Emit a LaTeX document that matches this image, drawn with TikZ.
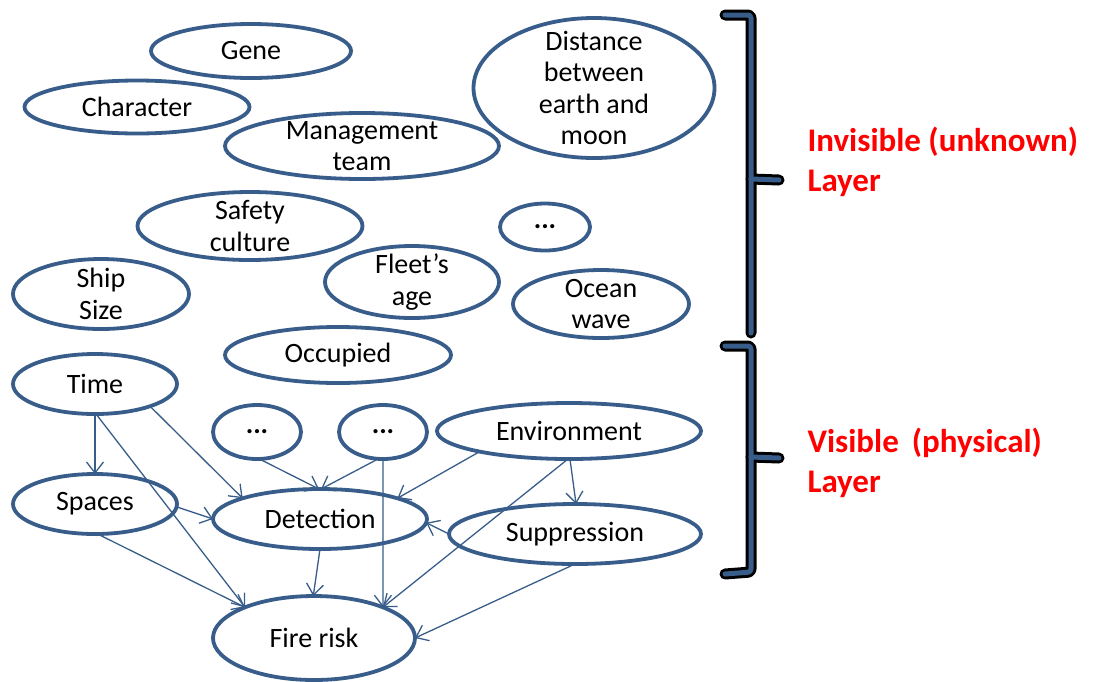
\documentclass[tikz,border=0pt]{standalone}
\usepackage{fontspec}
\setmainfont{Carlito}
\usetikzlibrary{shapes.geometric,arrows.meta}
\definecolor{nodeblue}{HTML}{385D8A}
\definecolor{layerred}{HTML}{FF0000}
\tikzset{
  var/.style={ellipse, draw=nodeblue, line width=3.8pt, fill=white,
    inner xsep=0pt, inner ysep=-14pt, outer sep=0pt, align=center,
    font=\fontsize{28}{31.5}\selectfont},
  link/.style={draw=nodeblue, line width=1.3pt,
    -{Straight Barb[length=11pt,width=17pt,line width=1.3pt]}},
  layertext/.style={anchor=west, align=left, text=layerred,
    font=\bfseries\fontsize{33}{40}\selectfont},
  braceshade/.style={draw=black, line width=11pt, line cap=round, line join=round, rounded corners=3pt},
  braceline/.style={draw=nodeblue, line width=5pt, line cap=round, line join=round, rounded corners=3pt}
}
\begin{document}
\begin{tikzpicture}[x=1pt,y=-1pt]
\useasboundingbox (0,0) rectangle (1099,681);

% hidden variables
\node[var, minimum width=200, minimum height=54] (gene) at (251,51) {Gene};
\node[var, minimum width=225, minimum height=53] (character) at (137,107) {Character};
\node[var, minimum width=274, minimum height=66] (mgmt) at (362,146) {Management\\team};
\node[var, minimum width=241, minimum height=140] (distance) at (594,88) {Distance\\between\\earth and\\moon};
\node[var, minimum width=225, minimum height=68] (safety) at (250,226) {Safety\\culture};
\node[var, minimum width=90, minimum height=47] (moreA) at (545,227) {\textbf{...}};
\node[var, minimum width=176, minimum height=70] (ship) at (101,294) {Ship\\Size};
\node[var, minimum width=174, minimum height=72] (fleet) at (412,282) {Fleet’s\\age};
\node[var, minimum width=176, minimum height=68] (ocean) at (601,304) {Ocean\\wave};
\node[var, minimum width=226, minimum height=56] (occupied) at (338,355) {Occupied};

% physical variables
\node[var, minimum width=164, minimum height=60] (time) at (95,384) {Time};
\node[var, minimum width=88, minimum height=54] (moreB) at (257,432) {\textbf{...}};
\node[var, minimum width=88, minimum height=54] (moreC) at (383,432) {\textbf{...}};
\node[var, minimum width=264, minimum height=56] (env) at (569,431) {Environment};
\node[var, minimum width=164, minimum height=60] (spaces) at (95,504) {Spaces};
\node[var, minimum width=214, minimum height=60] (detect) at (320,519) {Detection};
\node[var, minimum width=252, minimum height=60] (supp) at (575,534) {Suppression};
\node[var, minimum width=202, minimum height=84] (fire) at (314,638) {Fire risk};

% causal links
\draw[link] (time.south) -- (spaces.north);
\draw[link] (time.-22) -- (detect.165);
\draw[link] (time.-88) -- (fire.156);
\draw[link] (spaces.-2) -- (detect.180);
\draw[link] (spaces.-85) -- (fire.156);
\draw[link] (moreB.-85) -- (detect.92);
\draw[link] (moreC.-100) -- (detect.88);
\draw[link] (moreC.-90) -- (fire.24);
\draw[link] (env.-167) -- (detect.15);
\draw[link] (env.-88) -- (supp.88);
\draw[link] (env.-92) -- (fire.24);
\draw[link] (supp.180) -- (detect.-2);
\draw[link] (supp.-90) -- (fire.0);
\draw[link] (detect.-90) -- (fire.91);

% layer brackets
\coordinate (topA) at (725,15);
\coordinate (topB) at (751,15);
\coordinate (topC) at (751,333);
\coordinate (topM) at (751,179);
\coordinate (topT) at (779,180);
\coordinate (botA) at (725,346);
\coordinate (botB) at (751,346);
\coordinate (botC) at (751,572);
\coordinate (botD) at (725,574);
\coordinate (botM) at (751,457);
\coordinate (botT) at (779,458);

\begin{scope}[shift={(-2.5,1.5)}]
\draw[braceshade] (topA) -- (topB) -- (topC);
\draw[braceshade] (topM) -- (topT);
\draw[braceshade] (botA) -- (botB) -- (botC) -- (botD);
\draw[braceshade] (botM) -- (botT);
\end{scope}
\draw[braceline] (topA) -- (topB) -- (topC);
\draw[braceline] (topM) -- (topT);
\draw[braceline] (botA) -- (botB) -- (botC) -- (botD);
\draw[braceline] (botM) -- (botT);

\node[layertext] (invisible) at (804,162) {Invisible (unknown)\\Layer};
\node[layertext] (visible) at (804,463) {Visible \,(physical)\\Layer};
\end{tikzpicture}
\end{document}
